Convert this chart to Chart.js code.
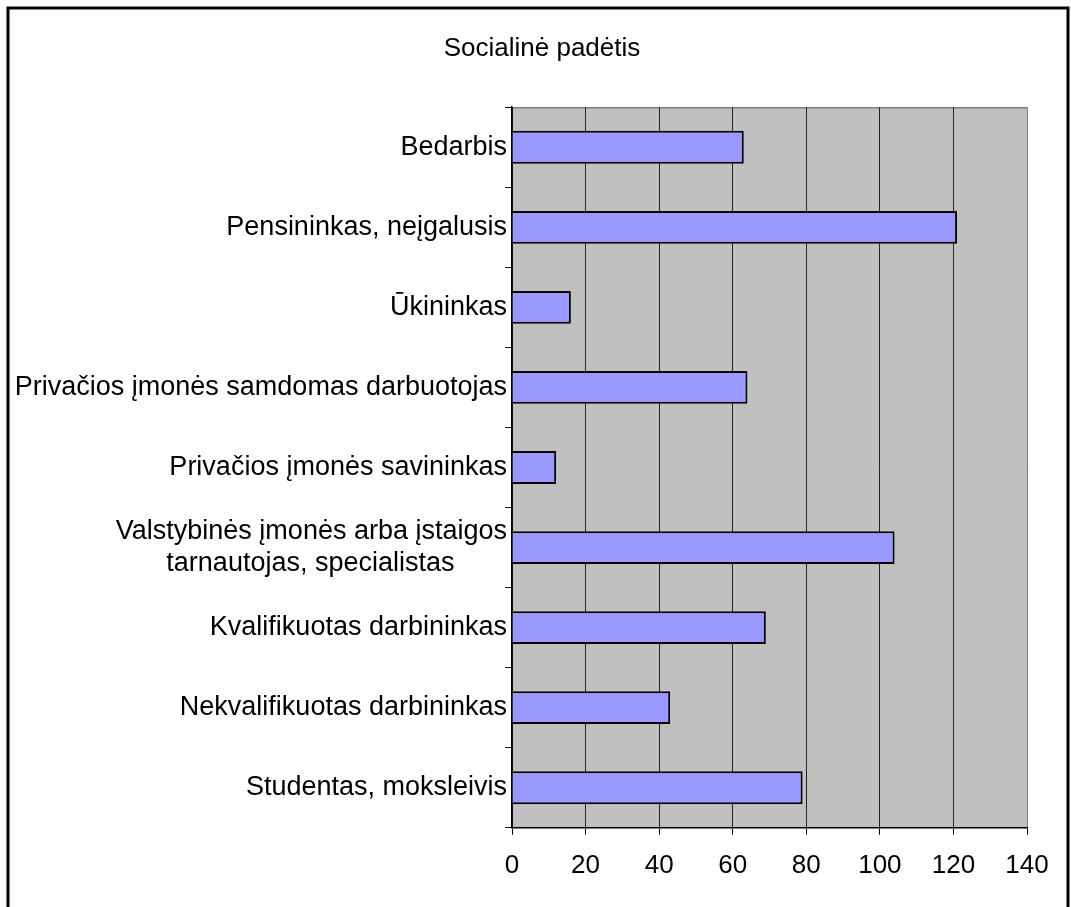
<!DOCTYPE HTML>
<html>
<head>
    <meta charset="utf-8">
    <script src="https://cdn.jsdelivr.net/npm/chart.js"></script>
    <style>
        body { margin: 0; background: #fff; }
        #chartContainer { position: relative; width: 1071px; height: 907px; }
    </style>
</head>
<body>

<div id="chartContainer">
    <canvas id="myChart" width="1071" height="907"></canvas>
</div>

<script type="text/javascript">
    const chartTitle = 'Socialinė padėtis';
    // second line of the long label is padded so both lines look centred
    const categories = [
        'Bedarbis',
        'Pensininkas, neįgalusis',
        'Ūkininkas',
        'Privačios įmonės samdomas darbuotojas',
        'Privačios įmonės savininkas',
        ['Valstybinės įmonės arba įstaigos', 'tarnautojas, specialistas\u00A0\u00A0\u00A0\u00A0\u00A0\u00A0\u00A0'],
        'Kvalifikuotas darbininkas',
        'Nekvalifikuotas darbininkas',
        'Studentas, moksleivis'
    ];
    const counts = [63, 121, 16, 64, 12, 104, 69, 43, 79];
    const xTicks = [0, 20, 40, 60, 80, 100, 120, 140];

    const fontFamily = "'Liberation Sans', Arial, sans-serif";

    // grey plot area + outer frame
    const frame = {
        id: 'frame',
        beforeDraw(chart) {
            const {ctx, chartArea: a} = chart;
            ctx.save();
            ctx.fillStyle = '#C0C0C0';
            ctx.fillRect(a.left, a.top, a.right - a.left, a.bottom - a.top);
            ctx.strokeStyle = '#808080';
            ctx.lineWidth = 1.5;
            ctx.beginPath();
            ctx.moveTo(a.left, a.top + 0.5);
            ctx.lineTo(a.right, a.top + 0.5);
            ctx.stroke();
            ctx.restore();
        },
        afterDraw(chart) {
            const ctx = chart.ctx;
            ctx.save();
            ctx.strokeStyle = '#000';
            ctx.lineWidth = 3;
            ctx.strokeRect(8, 8, 1060, 1000);
            ctx.restore();
        }
    };

    const data = {
        labels: categories,
        datasets: [{
            data: counts,
            backgroundColor: '#9999FF',
            borderColor: '#000000',
            borderWidth: 2,
            categoryPercentage: 1,
            barPercentage: 0.41
        }]
    };

    const config = {
        type: 'bar',
        data: data,
        plugins: [frame],
        options: {
            indexAxis: 'y',
            responsive: false,
            animation: false,
            // negative right padding only shifts the title; plot edge comes from the x scale
            layout: { padding: { left: 0, right: -13, top: 0, bottom: 11 } },
            plugins: {
                legend: { display: false },
                tooltip: { enabled: false },
                title: {
                    display: true,
                    text: chartTitle,
                    color: '#000',
                    font: { family: fontFamily, size: 26, weight: 'normal', lineHeight: 1.2 },
                    padding: { top: 33, bottom: 43 }
                }
            },
            scales: {
                x: {
                    min: 0,
                    max: 140,
                    afterBuildTicks: (scale) => { scale.ticks = xTicks.map(v => ({ value: v })); },
                    afterFit: (scale) => { scale.paddingRight = 44; },
                    ticks: {
                        color: '#000',
                        padding: 15,
                        font: { family: fontFamily, size: 26, lineHeight: 1.2 }
                    },
                    grid: {
                        color: (c) => (c.tick && c.tick.value === 140) ? '#808080' : '#222',
                        tickColor: '#000',
                        tickLength: 7,
                        lineWidth: 1
                    },
                    border: { color: '#000', width: 1.5 }
                },
                y: {
                    afterFit: (scale) => { scale.width = 512; },
                    ticks: {
                        color: '#000',
                        padding: -2,
                        font: { family: fontFamily, size: 27, lineHeight: 1.15 }
                    },
                    grid: {
                        offset: true,
                        drawOnChartArea: false,
                        tickColor: '#000',
                        tickLength: 7
                    },
                    border: { color: '#000', width: 1.5 }
                }
            }
        }
    };

    const myChart = new Chart(document.getElementById('myChart'), config);
</script>
</body>
</html>
